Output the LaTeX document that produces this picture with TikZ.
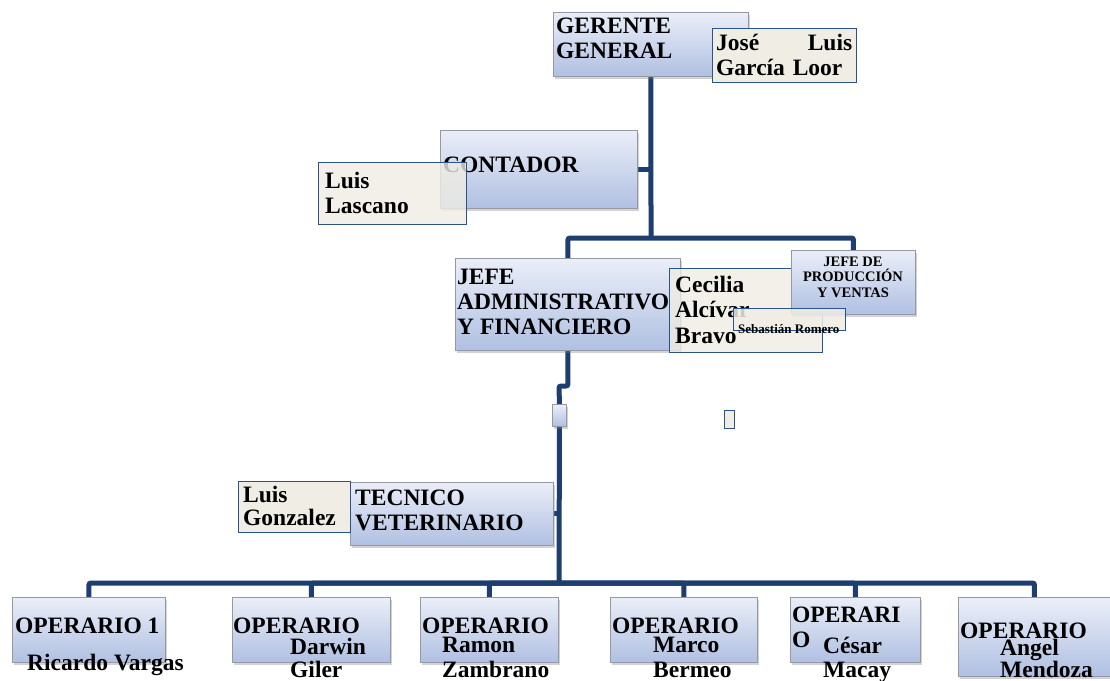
\documentclass[tikz,border=0pt]{standalone}
\usepackage{fontspec}
\setmainfont{Liberation Serif}
\usetikzlibrary{shadows, backgrounds, positioning}
\definecolor{lineanavy}{RGB}{31,62,112}
\definecolor{cargoarriba}{RGB}{234,238,248}
\definecolor{cargoabajo}{RGB}{176,192,226}
\definecolor{cargoborde}{RGB}{150,152,162}
\definecolor{beige}{RGB}{239,237,228}
\definecolor{nombreborde}{RGB}{44,82,138}

\begin{document}
\begin{tikzpicture}[
    x=1pt, y=-1pt,
    cargo/.style={rectangle, draw=cargoborde, line width=0.9pt, top color=cargoarriba,
        bottom color=cargoabajo, anchor=north west, inner sep=0pt,
        drop shadow={shadow xshift=2pt, shadow yshift=-3pt, opacity=0.35}},
    nombre/.style={rectangle, draw=nombreborde, line width=1.4pt, fill=beige,
        anchor=north west, inner sep=0pt},
    txt/.style={anchor=base west, inner sep=0pt, align=left,
        font=\bfseries\fontsize{23.5}{25}\selectfont},
    txtchico/.style={anchor=base, inner sep=0pt, align=center,
        font=\bfseries\fontsize{14.5}{15.5}\selectfont},
    link/.style={draw=lineanavy, line width=5pt, rounded corners=2pt}
]
    \useasboundingbox (0,0) rectangle (1110,680);

    % cargos y nombres (texto de varias lineas: base = ultima linea)
    \node[cargo, minimum width=195pt, minimum height=64pt] (gerente) at (553,12) {};
    \node[txt] (gerenteTxt) at (556,58) {GERENTE\\GENERAL};
    \node[nombre, minimum width=144pt, minimum height=54pt] (jose) at (712,28) {};
    \node[txt, text width=136pt] (joseTxt) at (716,50) {José\hfill Luis\\García Loor};

    \node[cargo, minimum width=197pt, minimum height=78pt] (contador) at (440,130) {};
    \node[txt] (contadorTxt) at (443,172) {CONTADOR};
    \node[nombre, fill opacity=0.8, minimum width=148pt, minimum height=62pt] (lascano) at (318,162) {};
    \node[txt] (lascanoTxt) at (325,213) {Luis\\Lascano};

    \node[cargo, minimum width=225pt, minimum height=92pt] (jefeadm) at (455,258) {};
    \node[txt] (jefeadmTxt) at (457,334) {JEFE\\ADMINISTRATIVO\\Y FINANCIERO};
    \node[nombre, fill opacity=0.8, minimum width=153pt, minimum height=84pt] (cecilia) at (669,268) {};
    \node[txt, font=\bfseries\fontsize{23.5}{25.5}\selectfont] (ceciliaTxt) at (675,343) {Cecilia\\Alcívar\\Bravo};
    \node[cargo, minimum width=124pt, minimum height=64pt] (jefeprod) at (791,250) {};
    \node[txtchico] (jefeprodTxt) at (853,297) {JEFE DE\\PRODUCCIÓN\\Y VENTAS};
    \node[nombre, fill opacity=0.85, minimum width=112pt, minimum height=22pt] (sebastian) at (733,308) {};
    \node[txt, font=\bfseries\fontsize{13}{14}\selectfont] (sebastianTxt) at (738,333) {Sebastián Romero};

    \node[cargo, minimum width=14pt, minimum height=22pt] (nudo) at (552,404) {};
    \node[nombre, minimum width=10pt, minimum height=18pt] (vacio) at (724,410) {};

    \node[cargo, minimum width=203pt, minimum height=63pt] (tecnico) at (350,482) {};
    \node[txt] (tecnicoTxt) at (355,530) {TECNICO\\VETERINARIO};
    \node[nombre, minimum width=112pt, minimum height=51pt] (gonzalez) at (238,481) {};
    \node[txt, font=\bfseries\fontsize{23.5}{23}\selectfont] (gonzalezTxt) at (243,525) {Luis\\Gonzalez};

    % operarios
    \node[cargo, minimum width=153pt, minimum height=65pt] (op1) at (12,597) {};
    \node[cargo, minimum width=158pt, minimum height=65pt] (op2) at (232,597) {};
    \node[cargo, minimum width=138pt, minimum height=65pt] (op3) at (420,597) {};
    \node[cargo, minimum width=147pt, minimum height=65pt] (op4) at (610,597) {};
    \node[cargo, minimum width=130pt, minimum height=65pt] (op5) at (790,597) {};
    \node[cargo, minimum width=152pt, minimum height=79pt] (op6) at (958,597) {};

    \node[txt] (op1Txt) at (15,633) {OPERARIO 1};
    \node[txt] (op1Nom) at (27,670) {Ricardo Vargas};
    \node[txt] (op2Txt) at (233,633) {OPERARIO};
    \node[txt, font=\bfseries\fontsize{23.5}{23}\selectfont] (op2Nom) at (290,677) {Darwin\\Giler};
    \node[txt] (op3Txt) at (422,633) {OPERARIO};
    \node[txt] (op3Nom) at (442,677) {Ramon\\Zambrano};
    \node[txt] (op4Txt) at (612,633) {OPERARIO};
    \node[txt] (op4Nom) at (653,677) {Marco\\Bermeo};
    \node[txt] (op5Txt) at (792,647) {OPERARI\\O};
    \node[txt, font=\bfseries\fontsize{23.5}{24}\selectfont] (op5Nom) at (823,677) {César\\Macay};
    \node[txt] (op6Txt) at (960,638) {OPERARIO};
    \node[txt, font=\bfseries\fontsize{23.5}{22}\selectfont] (op6Nom) at (1000,677) {Angel\\Mendoza};

    % conectores
    \begin{scope}[on background layer]
        \fill[white] (0,0) rectangle (1110,680);
        \coordinate (split) at (651,238);
        \coordinate (codo) at (559,386);
        \coordinate (barra) at (559,583);
        \draw[link] (gerente.south) -- (split);
        \draw[link] (contador.east) -- (contador.east -| split);
        \draw[link] (jefeadm.north) |- (split) -| (jefeprod.north);
        \draw[link] (jefeadm.south) |- (codo) -- (nudo.north);
        \draw[link] (nudo.south) -- (barra);
        \draw[link] (tecnico.east) -- (tecnico.east -| barra);
        \foreach \o in {op1,op2,op3,op4,op5,op6}
            \draw[link] (barra) -| (\o.north);
    \end{scope}
\end{tikzpicture}
\end{document}
